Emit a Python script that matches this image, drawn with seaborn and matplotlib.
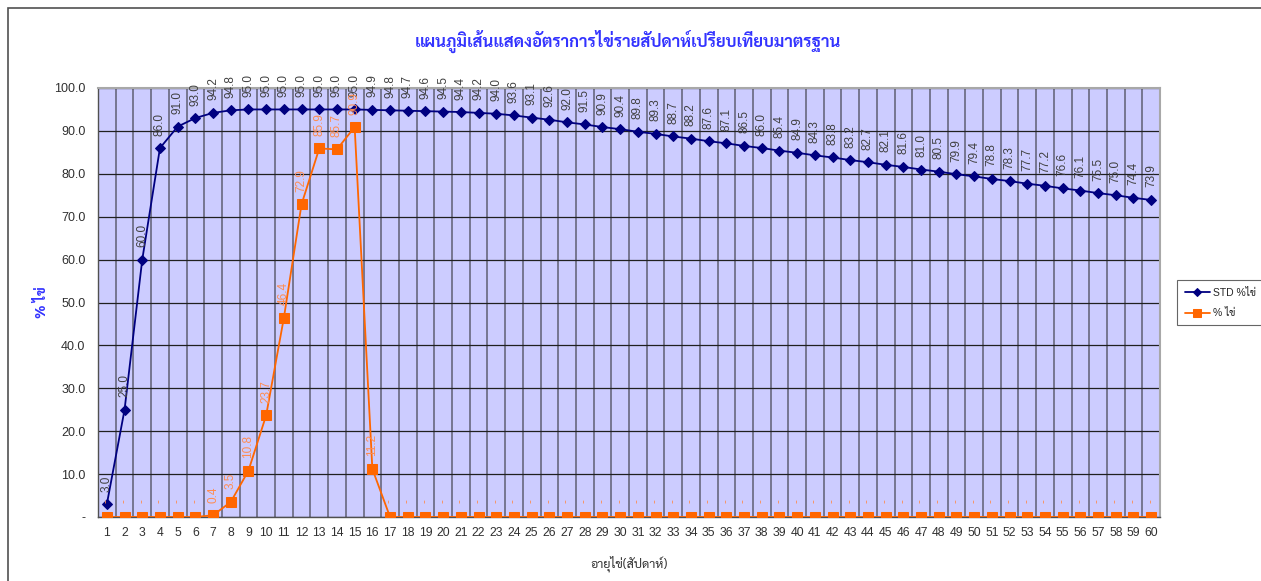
import matplotlib
matplotlib.use("Agg")
import matplotlib.pyplot as plt
from matplotlib import font_manager
from matplotlib.patches import Rectangle
from matplotlib.ft2font import FT2Font
import numpy as np
import pandas as pd
import seaborn as sns

# ข้อมูล: อายุไข่ (สัปดาห์) / มาตรฐาน / จริง
weeks = list(range(1, 61))
std_pct = [3.0, 25.0, 60.0, 86.0, 91.0, 93.0, 94.2, 94.8, 95.0, 95.0,
           95.0, 95.0, 95.0, 95.0, 95.0, 94.9, 94.8, 94.7, 94.6, 94.5,
           94.4, 94.2, 94.0, 93.6, 93.1, 92.6, 92.0, 91.5, 90.9, 90.4,
           89.8, 89.3, 88.7, 88.2, 87.6, 87.1, 86.5, 86.0, 85.4, 84.9,
           84.3, 83.8, 83.2, 82.7, 82.1, 81.6, 81.0, 80.5, 79.9, 79.4,
           78.8, 78.3, 77.7, 77.2, 76.6, 76.1, 75.5, 75.0, 74.4, 73.9]
actual_pct = [0, 0, 0, 0, 0, 0, 0.4, 3.5, 10.8, 23.7,
              46.4, 72.9, 85.9, 85.7, 90.9, 11.2] + [0] * 44
y_ticks = [0, 10, 20, 30, 40, 50, 60, 70, 80, 90, 100]

title = "แผนภูมิเส้นแสดงอัตราการไข่รายสัปดาห์เปรียบเทียบมาตรฐาน"
x_label = "อายุไข่(สัปดาห์)"
y_label = "% ไข่"
std_name = "STD %ไข่"
act_name = "% ไข่"


def find_thai_font():
    # หาฟอนต์ไทยที่มีตัวหนาด้วย
    prefer = ["Sarabun", "Noto Sans Thai Looped", "Noto Sans Thai", "Tahoma",
              "Loma", "Garuda", "Bai Jamjuree", "Chakra Petch", "Athiti"]
    ok = {}
    for f in font_manager.fontManager.ttflist:
        try:
            cm = FT2Font(f.fname).get_charmap()
        except Exception:
            continue
        if 0x0E44 in cm and 0x0E01 in cm:
            w = f.weight if isinstance(f.weight, int) else 400
            if str(f.weight) == "bold":
                w = 700
            ok.setdefault(f.name, set()).add(w)
    for p in prefer:
        if p in ok and 700 in ok[p]:
            return p
    for p in sorted(ok):
        if 700 in ok[p]:
            return p
    return sorted(ok)[0] if ok else "DejaVu Sans"


sns.set_style("white")
thai = find_thai_font()
plt.rcParams["font.family"] = ["Liberation Sans", thai, "DejaVu Sans"]

df = pd.DataFrame({"week": weeks, "std": std_pct, "actual": actual_pct})

fig = plt.figure(figsize=(12.61, 5.81), dpi=100)
ax = fig.add_axes([98 / 1261, 1 - 517 / 581, (1160 - 98) / 1261, (517 - 88) / 581])
ax.set_facecolor("#CCCCFF")

sns.lineplot(data=df, x="week", y="std", ax=ax, color="#000080", marker="D",
             markersize=5, markeredgecolor="#000080", linewidth=1.3, label=std_name,
             zorder=4)
sns.lineplot(data=df, x="week", y="actual", ax=ax, color="#FF6600", marker="s",
             markersize=6.5, markeredgecolor="#FF6600", linewidth=1.3, label=act_name,
             zorder=5)

# ป้ายค่า
for w, v in zip(weeks, std_pct):
    ax.annotate(f"{v:.1f}", (w, v), xytext=(0, 9), textcoords="offset points",
                rotation=90, ha="center", va="bottom", fontsize=8.5,
                color="#404040", annotation_clip=False, zorder=6)
for w, v in zip(weeks, actual_pct):
    txt = f"{v:.1f}" if v > 0 else "-"
    ax.annotate(txt, (w, v), xytext=(0, 10 if v == 0 else 9), textcoords="offset points",
                rotation=90, ha="center", va="bottom", fontsize=8.5,
                color="#FF8C50", annotation_clip=False, zorder=6)

ax.set_xlim(0.5, 60.5)
ax.set_ylim(0, 100)
ax.set_xticks(weeks)
ax.set_xticklabels([str(w) for w in weeks], fontsize=8.8, color="#303030")
ax.set_xticks(np.arange(0.5, 61, 1), minor=True)
ax.set_yticks(y_ticks)
ax.set_yticklabels(["-"] + [f"{t:.1f}" for t in y_ticks[1:]], fontsize=9, color="#303030")
ax.tick_params(axis="x", which="major", length=0, pad=7)
ax.tick_params(axis="x", which="minor", length=4, direction="inout", color="#404040")
ax.tick_params(axis="y", which="major", length=5, direction="out", color="#404040", pad=4)

ax.grid(False)
ax.grid(True, axis="x", which="minor", color="#707088", linewidth=1.3, zorder=1)
ax.grid(True, axis="y", which="major", color="#202020", linewidth=0.9, zorder=1)
ax.set_axisbelow(True)

for s in ["top", "right"]:
    ax.spines[s].set_color("#A8A8A8")
    ax.spines[s].set_linewidth(1.5)
for s in ["left", "bottom"]:
    ax.spines[s].set_color("#505050")
    ax.spines[s].set_linewidth(1.0)

ax.set_xlabel(x_label, fontsize=9, color="#303030", family=[thai, "DejaVu Sans"], labelpad=12)
ax.set_ylabel(y_label, fontsize=10, color="#3333FF", fontweight="bold",
              family=[thai, "DejaVu Sans"])
ax.yaxis.set_label_coords(-0.046, 0.5)

fig.text(628 / 1261, 1 - 41 / 581, title, ha="center", va="center", fontsize=12,
         fontweight="bold", color="#3333FF", family=[thai, "DejaVu Sans"])

leg = ax.legend(loc="center left", bbox_to_anchor=(1172 / 1261, 1 - 303 / 581),
                bbox_transform=fig.transFigure, frameon=True, fancybox=False,
                prop={"family": ["Liberation Sans", thai], "size": 7.5},
                borderpad=0.7, handlelength=2.4, handletextpad=0.3,
                labelspacing=1.0, markerscale=0.8)
leg.get_frame().set_edgecolor("#404040")
leg.get_frame().set_linewidth(0.8)

# กรอบแผนภูมิ
fig.patches.append(Rectangle((8 / 1261, -0.1), 1.2, 1 - 8 / 581 + 0.1,
                             transform=fig.transFigure, fill=False,
                             edgecolor="#505050", linewidth=1.2))

fig.savefig("out.png", dpi=100)
